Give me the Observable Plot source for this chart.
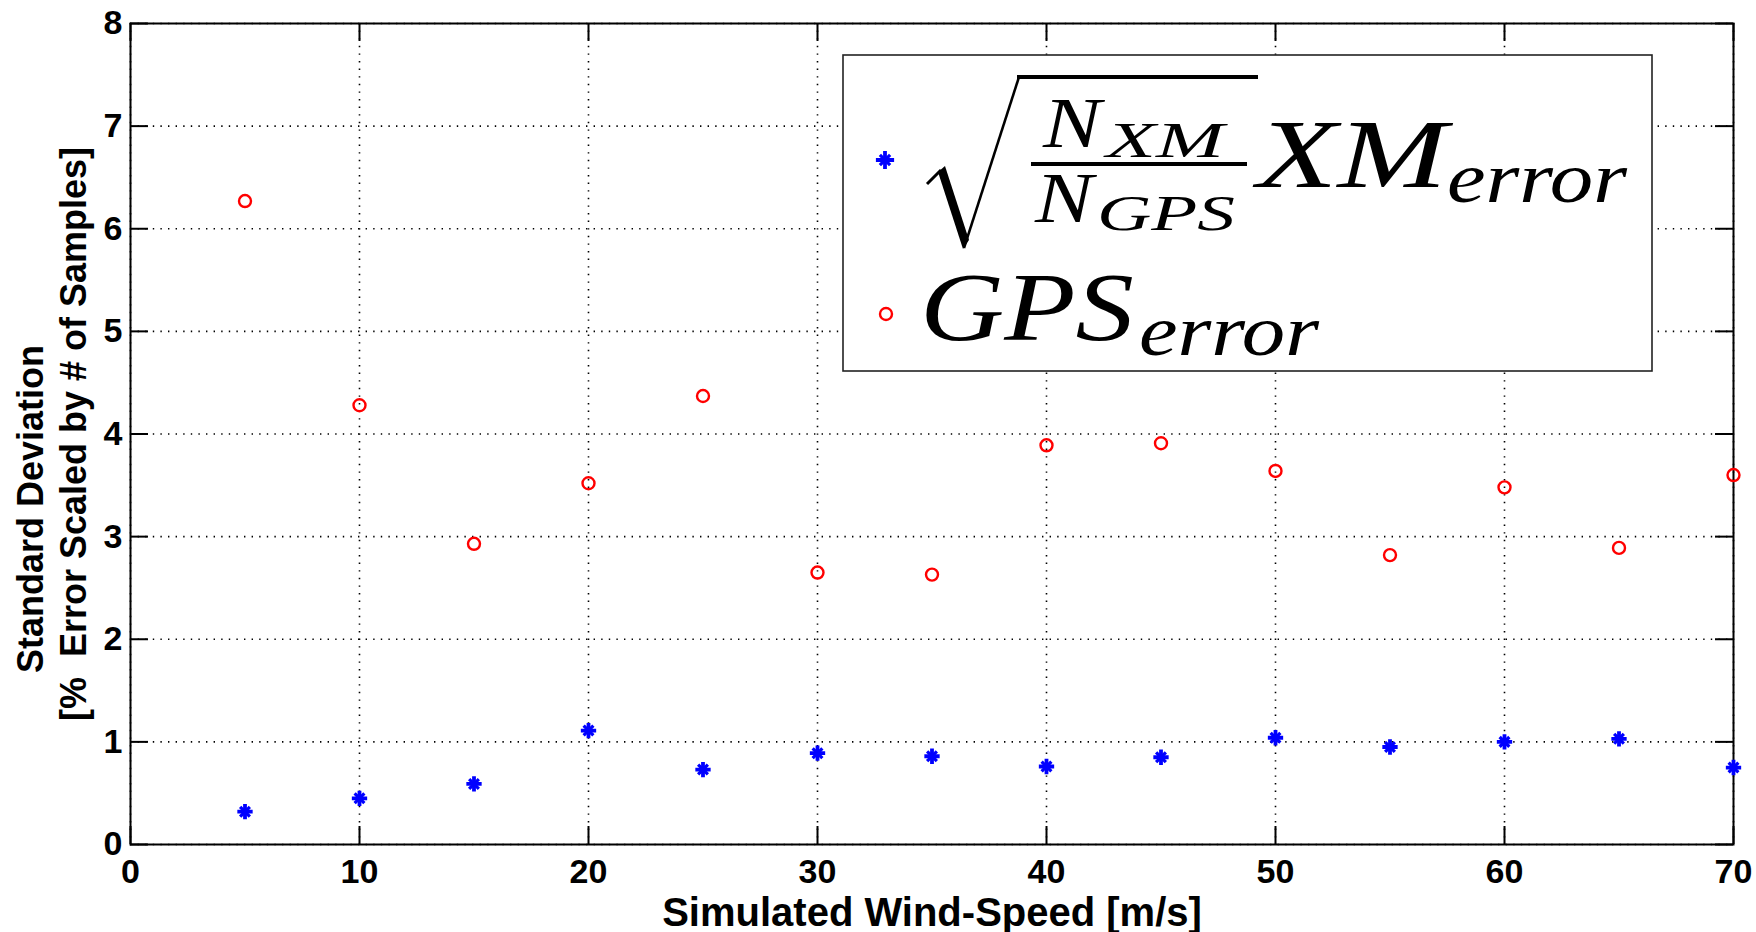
<!DOCTYPE html>
<html><head><meta charset="utf-8">
<script src="https://cdn.jsdelivr.net/npm/d3@7"></script>
<script src="https://cdn.jsdelivr.net/npm/@observablehq/plot@0.6"></script>
<style>html,body{margin:0;padding:0;background:#fff}#chart svg{display:block}</style>
</head><body><div id="chart"></div>
<script>
// ---- data ----
const windSpeed = [5, 10, 15, 20, 25, 30, 35, 40, 45, 50, 55, 60, 65, 70];
const xmError  = [0.32, 0.45, 0.59, 1.11, 0.73, 0.89, 0.86, 0.76, 0.85, 1.04, 0.95, 1.00, 1.03, 0.75];
const gpsError = [6.27, 4.28, 2.93, 3.52, 4.37, 2.65, 2.63, 3.89, 3.91, 3.64, 2.82, 3.48, 2.89, 3.60];
const xTicks = [0, 10, 20, 30, 40, 50, 60, 70];
const yTicks = [0, 1, 2, 3, 4, 5, 6, 7, 8];
const xLabel = "Simulated Wind-Speed [m/s]";
const yLabelLines = ["Standard Deviation", "[%\u00a0 Error Scaled by # of Samples]"];

const rows = windSpeed.map((w, i) => ({w, xm: xmError[i], gps: gpsError[i]}));

// MATLAB char-matrix style: pad lines to equal length with trailing spaces
const maxLen = Math.max(...yLabelLines.map(s => s.length));
const yLabelText = yLabelLines.map(s => s + "\u00a0".repeat(maxLen - s.length)).join("\n");

const W = 1756, H = 932;
const grid = {stroke: "#000", strokeOpacity: 1, strokeWidth: 1.6, strokeDasharray: "1.4,6.2"};
const tk = {stroke: "#000", strokeWidth: 2};

const plot = Plot.plot({
  width: W, height: H,
  marginLeft: 130, marginRight: 23, marginTop: 23, marginBottom: 88,
  x: {domain: [0, 70], ticks: xTicks, label: null},
  y: {domain: [0, 8], ticks: yTicks, label: null},
  style: {fontFamily: "'Liberation Sans', Arial, sans-serif", fontWeight: "bold", background: "white", color: "black"},
  marks: [
    Plot.gridX(xTicks, grid),
    Plot.gridY(yTicks, grid),
    Plot.tickX(xTicks, {x: d => d, insetTop: 803, ...tk}),
    Plot.tickX(xTicks, {x: d => d, insetBottom: 803, ...tk}),
    Plot.tickY(yTicks, {y: d => d, insetRight: 1585, ...tk}),
    Plot.tickY(yTicks, {y: d => d, insetLeft: 1585, ...tk}),
    Plot.axisX({ticks: xTicks, tickSize: 0, tickPadding: 14, fontSize: 34, tickFormat: d => String(d), label: null}),
    Plot.axisY({ticks: yTicks, tickSize: 0, tickPadding: 8, fontSize: 34, tickFormat: d => String(d), label: null}),
    Plot.frame({stroke: "#000", strokeWidth: 2}),
    Plot.dot(rows, {x: "w", y: "gps", r: 6, stroke: "#ff0000", strokeWidth: 2.4, fill: "none"}),
    Plot.dot(rows, {x: "w", y: "xm", symbol: "plus", r: 5, stroke: "#0000ff", strokeWidth: 3.8}),
    Plot.dot(rows, {x: "w", y: "xm", symbol: "times", r: 4.5, stroke: "#0000ff", strokeWidth: 3.2}),
    Plot.text([xLabel], {text: d => d, frameAnchor: "bottom", lineAnchor: "bottom", dy: 81, fontSize: 40}),
    Plot.text([yLabelText], {text: d => d, frameAnchor: "left", textAnchor: "middle", rotate: -90, dx: -80, fontSize: 36, lineHeight: 1.19})
  ]
});
document.getElementById("chart").appendChild(plot);

// ---- legend ----
const svg = d3.select(plot);
const lg = svg.append("g").attr("class", "legend").attr("text-anchor", "start");
lg.append("rect").attr("x", 843).attr("y", 55).attr("width", 809).attr("height", 316)
  .attr("fill", "white").attr("stroke", "#222").attr("stroke-width", 1.6);

lg.append("path").attr("transform", "translate(885,160)")
  .attr("d", d3.symbol(d3.symbolPlus, 110)()).attr("fill", "none").attr("stroke", "#0000ff").attr("stroke-width", 3.8);
lg.append("path").attr("transform", "translate(885,160)")
  .attr("d", d3.symbol(d3.symbolTimes, 70)()).attr("fill", "none").attr("stroke", "#0000ff").attr("stroke-width", 3.2);
lg.append("circle").attr("cx", 886).attr("cy", 314).attr("r", 6)
  .attr("fill", "none").attr("stroke", "#ff0000").attr("stroke-width", 2.4);

function mt(str, x, y, size, len) {
  lg.append("text").attr("x", x).attr("y", y)
    .attr("text-anchor", "start")
    .attr("font-family", "'Liberation Serif', 'DejaVu Serif', serif")
    .attr("font-style", "italic").attr("font-weight", "normal")
    .attr("font-size", size).attr("fill", "black")
    .attr("textLength", len).attr("lengthAdjust", "spacingAndGlyphs")
    .text(str);
}
// radical
lg.append("path").attr("d", "M927,184 L941,170").attr("stroke", "#000").attr("stroke-width", 3).attr("fill", "none");
lg.append("path").attr("d", "M938,172 L945,166 L969,240 L963,249 Z").attr("fill", "#000");
lg.append("path").attr("d", "M964,248 L1019,77").attr("stroke", "#000").attr("stroke-width", 2.5).attr("fill", "none");
lg.append("rect").attr("x", 1017).attr("y", 75).attr("width", 241).attr("height", 4).attr("fill", "#000");
// fraction bar
lg.append("rect").attr("x", 1031).attr("y", 162).attr("width", 216).attr("height", 4).attr("fill", "#000");

mt("N", 1043, 147, 72, 58);
mt("XM", 1106, 157, 51, 118);
mt("N", 1035, 222, 72, 58);
mt("GPS", 1097, 230, 51, 138);
mt("XM", 1257, 187, 98, 190);
mt("error", 1447, 202, 72, 180);
mt("GPS", 920, 340, 98, 214);
mt("error", 1139, 355, 72, 180);
</script>
</body></html>
